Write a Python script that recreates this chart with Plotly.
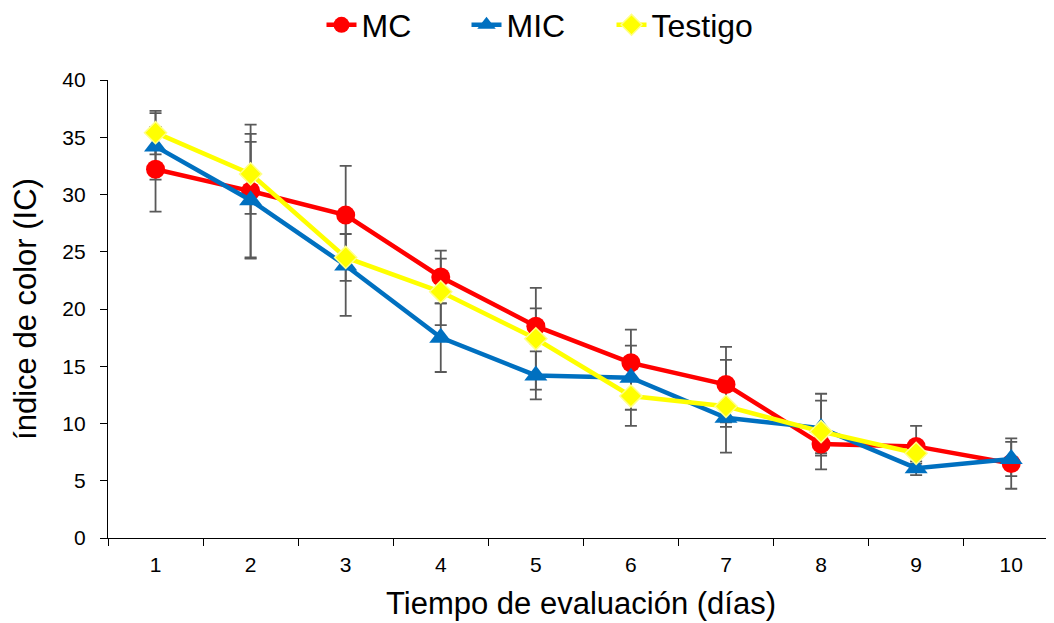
import plotly.graph_objects as go

dias = [1, 2, 3, 4, 5, 6, 7, 8, 9, 10]
mc = [32.2, 30.3, 28.2, 22.8, 18.5, 15.3, 13.4, 8.2, 8.0, 6.5]
mc_err = [3.7, 5.8, 4.3, 2.3, 1.55, 2.9, 3.3, 0.8, 1.8, 2.2]
mic = [34.2, 29.5, 23.8, 17.5, 14.2, 14.0, 10.5, 9.6, 6.1, 6.9]
mic_err = [2.9, 5.1, 4.4, 3.0, 2.1, 2.8, 0.8, 2.4, 0.6, 1.5]
testigo_x = [1, 2, 3, 4, 5, 6, 7, 8, 9]
testigo = [35.4, 31.8, 24.5, 21.5, 17.4, 12.4, 11.5, 9.3, 7.4]
testigo_err = [1.9, 3.5, 2.05, 2.9, 4.45, 2.6, 4.05, 3.3, 0.9]

font = "Arial, Liberation Sans, sans-serif"
err_color = "#595959"

fig = go.Figure()

# error bars first (behind lines and markers)
for x, y, e in [(dias, mc, mc_err), (dias, mic, mic_err), (testigo_x, testigo, testigo_err)]:
    fig.add_trace(go.Scatter(
        x=x, y=y, mode="markers",
        marker=dict(size=1, color="rgba(0,0,0,0)"),
        error_y=dict(type="data", array=e, visible=True, color=err_color,
                     thickness=1.8, width=6),
        showlegend=False, hoverinfo="skip"))

fig.add_trace(go.Scatter(
    x=dias, y=mc, name="MC", mode="lines+markers",
    line=dict(color="#FF0000", width=4.5),
    marker=dict(symbol="circle", size=19, color="#FF0000")))
fig.add_trace(go.Scatter(
    x=dias, y=mic, name="MIC", mode="lines+markers",
    line=dict(color="#0070C0", width=4.5),
    marker=dict(symbol="triangle-up", size=20, color="#0070C0")))
fig.add_trace(go.Scatter(
    x=testigo_x, y=testigo, name="Testigo", mode="lines+markers",
    line=dict(color="#FFFF00", width=4.5),
    marker=dict(symbol="diamond", size=17, color="#FFFF00",
                line=dict(color="#FFFF88", width=1.5))))

W, H = 1046, 615
fig.update_layout(
    width=W, height=H,
    margin=dict(l=100, r=0, t=72, b=85, autoexpand=False),
    paper_bgcolor="white", plot_bgcolor="white",
    font=dict(family=font, color="black"),
    showlegend=True,
    legend=dict(orientation="h", xref="container", yref="container",
                x=(539 - 8) / W, xanchor="center", y=1 - (25 - 8) / H, yanchor="middle",
                font=dict(size=32, family=font), entrywidth=100,
                entrywidthmode="pixels", tracegroupgap=0),
    xaxis=dict(
        range=[0.5, 10.45], tickmode="array", tickvals=dias,
        ticktext=[str(d) for d in dias], ticks="",
        tickfont=dict(size=21), showgrid=False, zeroline=False, automargin=False,
        ticklabelstandoff=8,
        showline=True, linecolor="black", linewidth=1.3,
        minor=dict(tickmode="linear", tick0=0.5, dtick=1, ticks="outside",
                   ticklen=7, tickcolor="black", tickwidth=1.3, showgrid=False),
        title=dict(text="Tiempo de evaluación (días)", font=dict(size=31), standoff=16)),
    yaxis=dict(
        range=[0, 40], tickmode="linear", tick0=0, dtick=5,
        ticks="outside", ticklen=7, tickcolor="black", tickwidth=1.3,
        tickfont=dict(size=21), showgrid=False, zeroline=False, automargin=False,
        ticklabelstandoff=10,
        showline=True, linecolor="black", linewidth=1.3,
        title=dict(text="índice de color (IC)", font=dict(size=31), standoff=18)),
)

fig.write_html("out.html")
